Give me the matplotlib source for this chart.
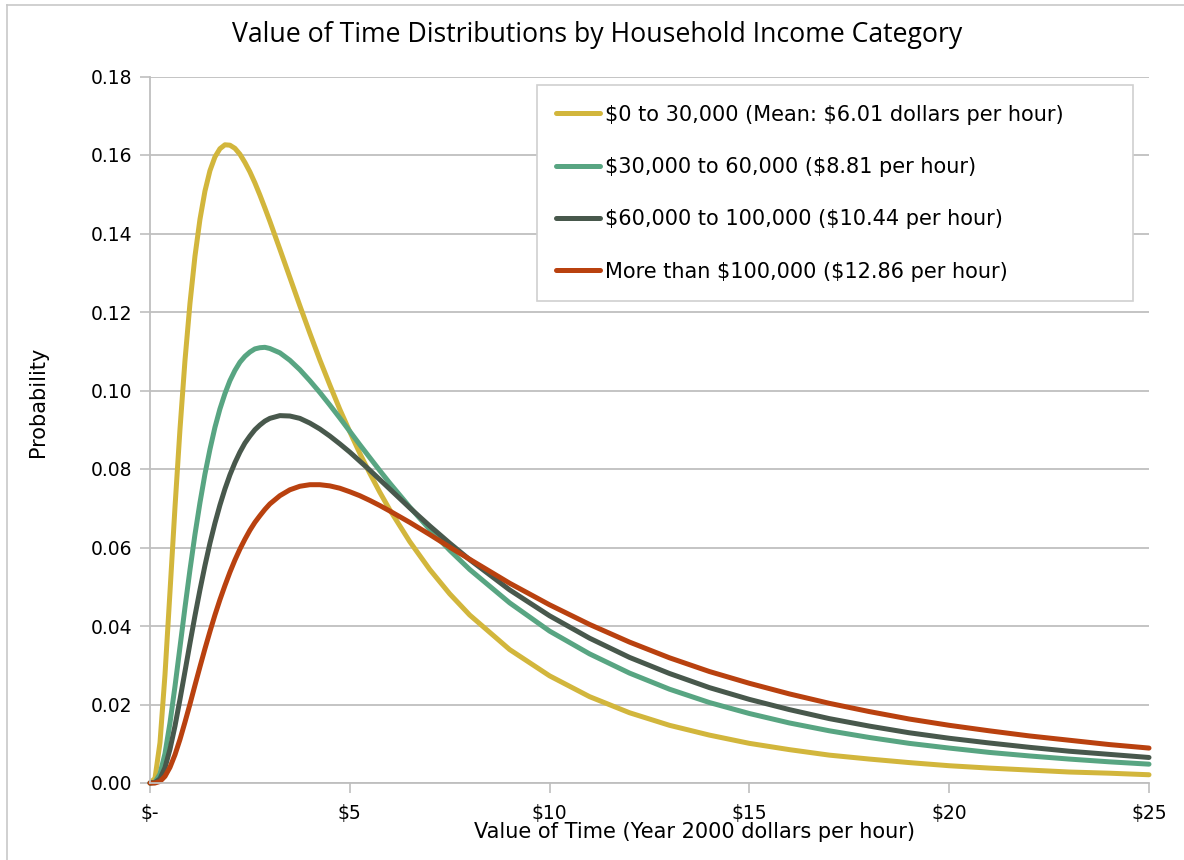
import matplotlib
matplotlib.use('Agg')
import matplotlib.pyplot as plt
from matplotlib.lines import Line2D
from matplotlib.ticker import FuncFormatter

# value of time (dollars per hour) where the curves were read
x_vals = [0, 0.125, 0.25, 0.375, 0.5, 0.625, 0.75, 0.875, 1.0, 1.125, 1.25, 1.375, 1.5,
          1.625, 1.75, 1.875, 2.0, 2.125, 2.25, 2.375, 2.5, 2.625, 2.75, 2.875, 3.0,
          3.25, 3.5, 3.75, 4.0, 4.25, 4.5, 4.75, 5.0, 5.25, 5.5, 5.75, 6.0,
          6.5, 7.0, 7.5, 8.0,
          9, 10, 11, 12, 13, 14, 15, 16, 17, 18, 19, 20, 21, 22, 23, 24, 25]

# probability for each income group
inc_0_30 = [0, 0.0012, 0.0103, 0.0276, 0.0487, 0.0702, 0.0901, 0.1076, 0.1222, 0.1342, 0.1436,
            0.1508, 0.1560, 0.1595, 0.1616, 0.1626, 0.1625, 0.1617, 0.1602, 0.1581, 0.1557,
            0.1529, 0.1498, 0.1465, 0.1431,
            0.1360, 0.1288, 0.1216, 0.1146, 0.1078, 0.1014, 0.0952, 0.0895, 0.0840, 0.0789,
            0.0741, 0.0696,
            0.0615, 0.0544, 0.0482, 0.0428,
            0.0340, 0.0273, 0.0220, 0.0179, 0.0147, 0.0122, 0.0101, 0.0085, 0.0071, 0.0061,
            0.0052, 0.0044, 0.0038, 0.0033, 0.0028, 0.0025, 0.0021]
inc_30_60 = [0, 0.0002, 0.0023, 0.0075, 0.0153, 0.0246, 0.0346, 0.0447, 0.0543, 0.0633, 0.0714,
             0.0787, 0.0850, 0.0906, 0.0953, 0.0992, 0.1025, 0.1051, 0.1072, 0.1087, 0.1098,
             0.1106, 0.1109, 0.1110, 0.1107,
             0.1096, 0.1077, 0.1053, 0.1025, 0.0995, 0.0963, 0.0930, 0.0896, 0.0862, 0.0829,
             0.0796, 0.0764,
             0.0703, 0.0646, 0.0593, 0.0544,
             0.0459, 0.0387, 0.0329, 0.0280, 0.0239, 0.0205, 0.0177, 0.0153, 0.0133, 0.0116,
             0.0101, 0.0089, 0.0078, 0.0069, 0.0061, 0.0054, 0.0048]
inc_60_100 = [0, 0.0001, 0.0011, 0.0039, 0.0086, 0.0145, 0.0213, 0.0284, 0.0356, 0.0426, 0.0492,
              0.0554, 0.0611, 0.0662, 0.0708, 0.0749, 0.0785, 0.0816, 0.0843, 0.0866, 0.0884,
              0.0900, 0.0912, 0.0922, 0.0929,
              0.0936, 0.0935, 0.0929, 0.0917, 0.0902, 0.0884, 0.0864, 0.0843, 0.0820, 0.0797,
              0.0773, 0.0749,
              0.0701, 0.0655, 0.0611, 0.0569,
              0.0492, 0.0426, 0.0369, 0.0320, 0.0279, 0.0243, 0.0213, 0.0187, 0.0164, 0.0145,
              0.0128, 0.0114, 0.0102, 0.0091, 0.0081, 0.0073, 0.0065]
inc_100_up = [0, 0.0000, 0.0004, 0.0017, 0.0040, 0.0072, 0.0111, 0.0155, 0.0201, 0.0249, 0.0296,
              0.0342, 0.0386, 0.0428, 0.0467, 0.0503, 0.0537, 0.0568, 0.0596, 0.0621, 0.0644,
              0.0664, 0.0681, 0.0697, 0.0711,
              0.0732, 0.0747, 0.0756, 0.0760, 0.0760, 0.0757, 0.0751, 0.0742, 0.0732, 0.0720,
              0.0707, 0.0693,
              0.0664, 0.0633, 0.0601, 0.0570,
              0.0509, 0.0454, 0.0404, 0.0359, 0.0319, 0.0284, 0.0254, 0.0227, 0.0203, 0.0182,
              0.0163, 0.0147, 0.0133, 0.0120, 0.0109, 0.0098, 0.0089]

labels = [r'\$0 to 30,000 (Mean: \$6.01 dollars per hour)',
          r'\$30,000 to 60,000 (\$8.81 per hour)',
          r'\$60,000 to 100,000 (\$10.44 per hour)',
          r'More than \$100,000 (\$12.86 per hour)']
colors = ['#D2B63C', '#58A582', '#48584C', '#B9410F']

plt.rcParams['font.family'] = ['DejaVu Sans']

fig = plt.figure(figsize=(11.84, 8.6), dpi=100)
ax = fig.add_axes([150 / 1184, 1 - 783 / 860, 999 / 1184, 706.5 / 860])

for series, lab, col in zip([inc_0_30, inc_30_60, inc_60_100, inc_100_up], labels, colors):
    ax.plot(x_vals, series, color=col, lw=3.6, label=lab, clip_on=False,
            solid_joinstyle='round', solid_capstyle='round')

ax.set_xlim(0, 25)
ax.set_ylim(0, 0.18)
ax.set_xticks([0, 5, 10, 15, 20, 25])
ax.set_yticks([i * 0.02 for i in range(10)])
ax.xaxis.set_major_formatter(FuncFormatter(lambda v, p: r'\$-' if v == 0 else r'\$%d' % v))
ax.yaxis.set_major_formatter(FuncFormatter(lambda v, p: '%.2f' % v))
ax.tick_params(axis='both', labelsize=13.5, color='#BFBFBF', length=7, width=1.2, pad=6)
ax.tick_params(axis='x', pad=8)

ax.grid(axis='y', color='#BFBFBF', lw=1.3)
ax.set_axisbelow(True)
for s in ['top', 'right']:
    ax.spines[s].set_visible(False)
for s in ['left', 'bottom']:
    ax.spines[s].set_color('#BFBFBF')
    ax.spines[s].set_linewidth(1.3)

# x label sits a bit right of the axis centre in the original
ax.set_xlabel('Value of Time (Year 2000 dollars per hour)', fontsize=15)
ax.xaxis.set_label_coords((695 - 150) / 999, -(832 - 783) / 706.5)
ax.xaxis.label.set_va('center')
fig.text(38 / 1184, 1 - 402 / 860, 'Probability', rotation=90, fontsize=15,
         ha='center', va='center')
fig.text(597 / 1184, 1 - 35 / 860, 'Value of Time Distributions by Household Income Category',
         fontsize=19.2, ha='center', va='center', family=['Open Sans', 'DejaVu Sans'])

leg = ax.legend(loc='upper left', bbox_to_anchor=(0.387, 0.684, 0.597, 0.304), mode='expand',
                fontsize=15, labelspacing=1.55, handlelength=2.1, handletextpad=0.25,
                borderpad=0.95, borderaxespad=0, fancybox=False, framealpha=1)
leg.get_frame().set_edgecolor('#D0D0D0')
leg.get_frame().set_linewidth(1.2)

# light border of the chart area (left and top)
fig.add_artist(Line2D([7 / 1184, 7 / 1184], [0, 1 - 5 / 860], color='#C8C8C8', lw=1.2))
fig.add_artist(Line2D([7 / 1184, 1], [1 - 5 / 860, 1 - 5 / 860], color='#C8C8C8', lw=1.2))

fig.savefig('out.png', dpi=100)
